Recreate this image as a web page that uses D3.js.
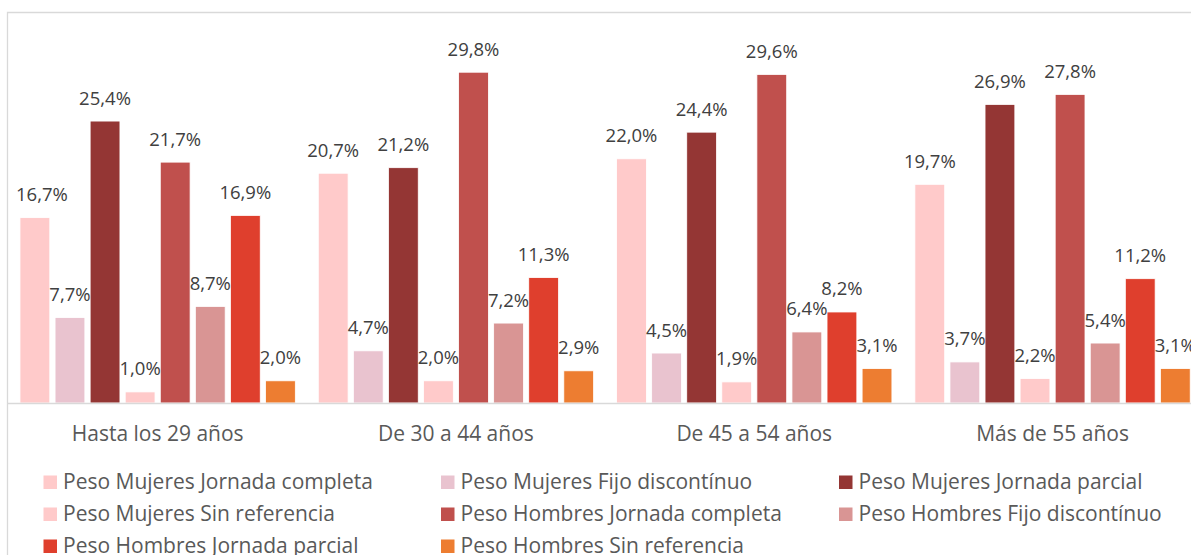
<!DOCTYPE html>
<html>
<head>
<meta charset="utf-8">
<script src="https://cdn.jsdelivr.net/npm/d3@7"></script>
<style>
  html, body { margin: 0; padding: 0; background: #fff; overflow: hidden; }
  svg { display: block; font-family: "Open Sans", Lato, sans-serif; }
</style>
</head>
<body>
<svg id="chart" width="1191" height="555"></svg>
<script>
// categories (age groups)
const categories = ['Hasta los 29 años', 'De 30 a 44 años', 'De 45 a 54 años', 'Más de 55 años'];

// series names, in legend order
const seriesNames = [
  'Peso Mujeres Jornada completa',
  'Peso Mujeres Fijo discontínuo',
  'Peso Mujeres Jornada parcial',
  'Peso Mujeres Sin referencia',
  'Peso Hombres Jornada completa',
  'Peso Hombres Fijo discontínuo',
  'Peso Hombres Jornada parcial',
  'Peso Hombres Sin referencia',
];

// values (%) per series, one per category
const mujeresCompleta = [16.7, 20.7, 22.0, 19.7];
const mujeresFijo = [7.7, 4.7, 4.5, 3.7];
const mujeresParcial = [25.4, 21.2, 24.4, 26.9];
const mujeresSinRef = [1.0, 2.0, 1.9, 2.2];
const hombresCompleta = [21.7, 29.8, 29.6, 27.8];
const hombresFijo = [8.7, 7.2, 6.4, 5.4];
const hombresParcial = [16.9, 11.3, 8.2, 11.2];
const hombresSinRef = [2.0, 2.9, 3.1, 3.1];

const seriesValues = [
  mujeresCompleta, mujeresFijo, mujeresParcial, mujeresSinRef,
  hombresCompleta, hombresFijo, hombresParcial, hombresSinRef,
];

const colors = ['#ffcaca', '#e9c3cf', '#943634', '#ffcaca', '#c0504d', '#d99594', '#df3f2d', '#ed7d31'];

const svg = d3.select('#chart');

// chart border (cut off at right and bottom)
svg.append('path')
  .attr('d', 'M7.5,600 V12.5 H1200')
  .attr('fill', 'none')
  .attr('stroke', '#d9d9d9')
  .attr('stroke-width', 1.3);

const x0 = d3.scaleBand()
  .domain(categories)
  .range([8.5, 1201.7])
  .paddingInner(0.077)
  .paddingOuter(0.0385);

const x1 = d3.scaleBand()
  .domain(d3.range(seriesNames.length))
  .range([0, x0.bandwidth()])
  .paddingInner(0.15);

const y = d3.scaleLinear().domain([0, 35]).range([403, 14.5]);

const fmt = (v) => d3.format('.1f')(v).replace('.', ',') + '%';

// bars
const groups = svg.append('g')
  .selectAll('g')
  .data(categories)
  .join('g')
  .attr('transform', (d) => `translate(${x0(d)},0)`);

groups.selectAll('rect')
  .data((d, ci) => seriesValues.map((vals, si) => ({ si, v: vals[ci] })))
  .join('rect')
  .attr('x', (d) => x1(d.si))
  .attr('y', (d) => y(d.v))
  .attr('width', x1.bandwidth())
  .attr('height', (d) => y(0) - y(d.v))
  .attr('fill', (d) => colors[d.si])
  .attr('stroke', '#fff')
  .attr('stroke-width', 0.8);

// axis baseline
svg.append('line')
  .attr('x1', 7.5).attr('x2', 1191)
  .attr('y1', y(0) + 0.5).attr('y2', y(0) + 0.5)
  .attr('stroke', '#d9d9d9')
  .attr('stroke-width', 1.3);

// data labels
const labels = groups.selectAll('text')
  .data((d, ci) => seriesValues.map((vals, si) => ({ si, v: vals[ci] })))
  .join('text')
  .attr('x', (d) => x1(d.si) + x1.bandwidth() / 2)
  .attr('y', (d) => y(d.v) - 16.5)
  .attr('text-anchor', 'middle')
  .attr('font-size', 18.5)
  .attr('fill', '#404040')
  .text((d) => fmt(d.v));

// keep labels inside the left edge of the plot, like Excel does
labels.each(function () {
  const box = this.getBBox();
  const g = this.parentNode.transform.baseVal.consolidate();
  const left = box.x + (g ? g.matrix.e : 0);
  if (left < 16) d3.select(this).attr('x', +this.getAttribute('x') + (16 - left));
});

// category axis labels
const xAxis = svg.append('g')
  .attr('transform', `translate(0,${y(0)})`)
  .call(d3.axisBottom(x0).tickSize(0).tickPadding(0));
xAxis.select('.domain').remove();
xAxis.selectAll('text')
  .attr('dy', null)
  .attr('y', 38)
  .attr('font-family', '"Open Sans", Lato, sans-serif')
  .attr('font-size', 21)
  .attr('fill', '#595959');

// legend
const legendCols = [43.5, 441, 839];
const legendRows = [489, 521, 553];
const legend = svg.append('g')
  .selectAll('g')
  .data(seriesNames)
  .join('g')
  .attr('transform', (d, i) => `translate(${legendCols[i % 3]},${legendRows[Math.floor(i / 3)]})`);

legend.append('rect')
  .attr('x', 0).attr('y', -13.5)
  .attr('width', 13.5).attr('height', 13.5)
  .attr('fill', (d, i) => colors[i]);

legend.append('text')
  .attr('x', 19.5)
  .attr('y', 0)
  .attr('font-size', 21)
  .attr('fill', '#595959')
  .text((d) => d);
</script>
</body>
</html>
